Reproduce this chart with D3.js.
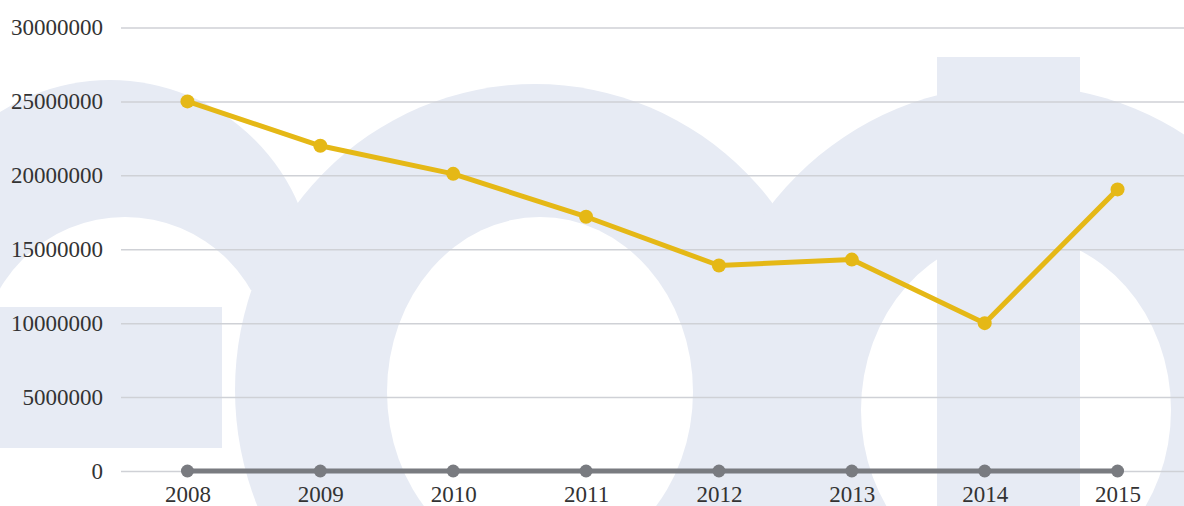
<!DOCTYPE html>
<html>
    <head>
        <meta charset="utf-8">
        <style>
            body { margin: 0; background: white; }
            .grid line { stroke: #cfd1d6; stroke-width: 1.5; }
            .axis text { font-family: "Liberation Serif", serif; font-size: 23px; fill: #333; }
            .mark { fill: #e7ebf4; }
            .hole { fill: white; }
        </style>
    </head>
    <body>
        <div id="chart"></div>
        <script src="https://cdn.jsdelivr.net/npm/d3@7"></script>
        <script>

//////////////////// donnees ////////////////////
const years = ['2008', '2009', '2010', '2011', '2012', '2013', '2014', '2015'];
const serie_jaune = [25000000, 22000000, 20100000, 17200000, 13900000, 14300000, 10000000, 19050000];
const serie_grise = [0, 0, 0, 0, 0, 0, 0, 0];
const y_ticks = [0, 5000000, 10000000, 15000000, 20000000, 25000000, 30000000];

//////////////////// taille ////////////////////
let W = 1184;
let H = 506;
let left = 121;
let top_y = 27.5;
let bottom_y = 471;

let svg = d3.select('#chart').append('svg')
    .attr('width', W)
    .attr('height', H);

//////////////////// filigrane ////////////////////
let fond = svg.append('g');
// lettre G
fond.append('circle').classed('mark', true).attr('cx', 110).attr('cy', 285).attr('r', 205);
fond.append('circle').classed('hole', true).attr('cx', 125).attr('cy', 362).attr('r', 145);
fond.append('rect').classed('hole', true).attr('x', 222).attr('y', 290).attr('width', 200).attr('height', 230);
fond.append('rect').classed('hole', true).attr('x', 0).attr('y', 448).attr('width', 240).attr('height', 60);
fond.append('rect').classed('mark', true).attr('x', 0).attr('y', 307).attr('width', 222).attr('height', 141);
// lettre O
fond.append('ellipse').classed('mark', true).attr('cx', 535).attr('cy', 390).attr('rx', 300).attr('ry', 306);
fond.append('ellipse').classed('hole', true).attr('cx', 540).attr('cy', 392).attr('rx', 153).attr('ry', 175);
// lettre d
fond.append('circle').classed('mark', true).attr('cx', 1016).attr('cy', 395).attr('r', 310);
fond.append('ellipse').classed('hole', true).attr('cx', 1016).attr('cy', 410).attr('rx', 155).attr('ry', 175);
fond.append('rect').classed('mark', true).attr('x', 937).attr('y', 57).attr('width', 143).attr('height', 460);

//////////////////// echelles ////////////////////
let x = d3.scalePoint()
    .domain(years)
    .range([left, W])
    .padding(0.5);

let y = d3.scaleLinear()
    .domain([0, 30000000])
    .range([bottom_y, top_y]);

// grille
svg.append('g')
    .classed('grid', true)
    .attr('transform', `translate(${left}, 0)`)
    .call(d3.axisRight(y).tickValues(y_ticks).tickSize(W - left).tickFormat(''))
    .call(g => g.select('.domain').remove());

// axe y
svg.append('g')
    .classed('axis', true)
    .attr('transform', `translate(${left}, 0)`)
    .call(d3.axisLeft(y).tickValues(y_ticks).tickSize(0).tickPadding(18).tickFormat(d3.format('d')))
    .call(g => g.select('.domain').remove());

// axe x
svg.append('g')
    .classed('axis', true)
    .attr('transform', `translate(0, ${bottom_y})`)
    .call(d3.axisBottom(x).tickSize(0).tickPadding(15))
    .call(g => g.select('.domain').remove());

//////////////////// series ////////////////////
function genSerie(values, color, r) {
    let pts = years.map((yr, i) => [x(yr), y(values[i])]);
    svg.append('path')
        .attr('d', d3.line()(pts))
        .attr('fill', 'none')
        .attr('stroke', color)
        .attr('stroke-width', 5)
        .attr('stroke-linejoin', 'round');
    svg.append('g').selectAll('circle')
        .data(pts)
        .join('circle')
        .attr('cx', d => d[0])
        .attr('cy', d => d[1])
        .attr('r', r)
        .attr('fill', color);
}

genSerie(serie_grise, '#797b80', 6.5);
genSerie(serie_jaune, '#e5b816', 7);

        </script>
    </body>
</html>
